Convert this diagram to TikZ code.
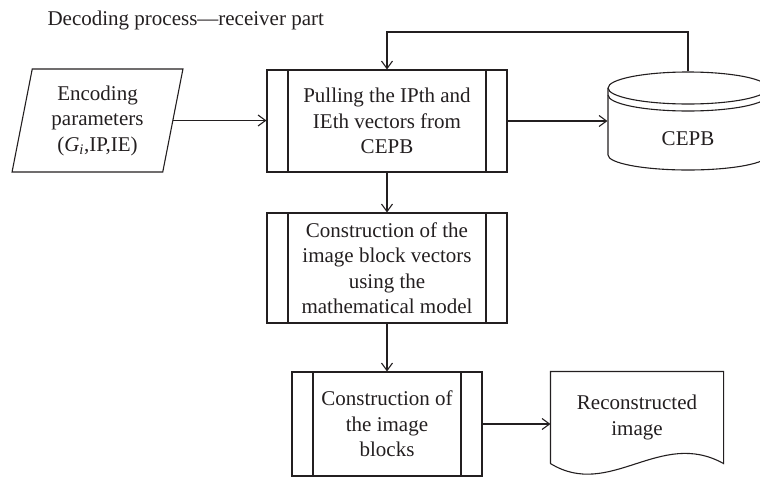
\documentclass[tikz,border=0pt]{standalone}
\usepackage{fontspec}
\setmainfont{Liberation Serif}
\usetikzlibrary{shapes.geometric,arrows.meta,calc}
\definecolor{ink}{RGB}{35,31,32}
\begin{document}
\begin{tikzpicture}[x=1pt,y=-1pt, line width=1.1pt, draw=ink, text=ink,
  font=\fontsize{21}{25.5}\selectfont,
  arr/.style={-{Straight Barb[length=7.5pt,width=11pt]}},
  procbox/.style={draw, rectangle, align=center, inner sep=0pt,
    path picture={
      \draw ([xshift=21pt]path picture bounding box.north west) -- ([xshift=21pt]path picture bounding box.south west);
      \draw ([xshift=-21pt]path picture bounding box.north east) -- ([xshift=-21pt]path picture bounding box.south east);}},
  iobox/.style={draw, trapezium, trapezium left angle=78.5, trapezium right angle=101.5,
    trapezium stretches=true, inner sep=0pt, align=center},
  plain/.style={inner sep=0pt, align=center}]
\clip (0,0) rectangle (760,477);

\node[anchor=base west, inner sep=0pt] (title) at (47,25) {Decoding process—receiver part};

\node[iobox, minimum width=171pt, minimum height=103pt] (params) at (97.5,120.5)
  {Encoding\\parameters\\(\textit{G}\textsubscript{\textit{i}},IP,IE)};

\node[procbox, minimum width=240pt, minimum height=102pt] (pull) at (387,121)
  {Pulling the IPth and\\IEth vectors from\\CEPB};
\node[procbox, minimum width=240pt, minimum height=110pt] (build) at (387,268)
  {Construction of the\\image block vectors\\using the\\mathematical model};
\node[procbox, minimum width=190pt, minimum height=104pt] (blocks) at (387,424)
  {Construction of\\the image\\blocks};

% database (cylinder)
\node[plain, minimum width=160pt, minimum height=98pt] (cepb) at (688,121) {};
\draw (688,88) ellipse [x radius=80pt, y radius=16pt];
\draw (608,95) arc [start angle=180, end angle=360, x radius=80pt, y radius=16pt];
\draw (608,88) -- (608,155) arc [start angle=180, end angle=360, x radius=80pt, y radius=15pt] -- (768,88);
\node[plain] (cepblabel) at (688,139) {CEPB};

% document
\node[plain, minimum width=172pt, minimum height=91pt] (recon) at (637,417.5) {Reconstructed\\image};
\draw (recon.south west) -- (recon.north west) -- (recon.north east) -- (recon.south east)
  .. controls (660,428) and (610,500) .. (recon.south west);

% connectors
\coordinate (fb) at (387,32);
\draw[arr] (params.east) -- (params.east -| pull.west);
\draw[arr] (pull.east) -- (pull.east -| cepb.west);
\draw[arr] (cepb.north) |- (fb) -- (pull.north);
\draw[arr] (pull.south) -- (build.north);
\draw[arr] (build.south) -- (blocks.north);
\draw[arr] (blocks.east) -- (blocks.east -| recon.west);
\end{tikzpicture}
\end{document}
